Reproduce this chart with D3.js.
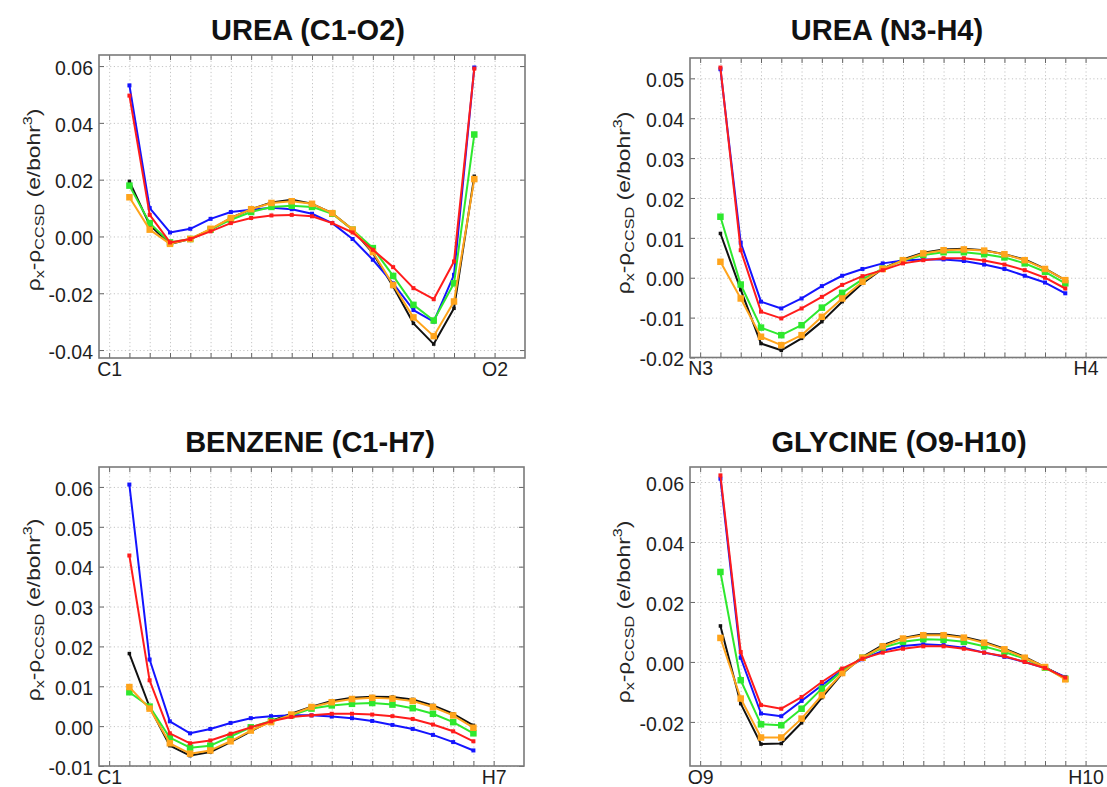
<!DOCTYPE html>
<html><head><meta charset="utf-8">
<script src="https://cdn.jsdelivr.net/npm/d3@7"></script>
<style>
body{margin:0;background:#fff;}
svg{display:block;font-family:"Liberation Sans",Arial,Helvetica,sans-serif;}
</style></head>
<body>
<svg id="chart" width="1107" height="787"></svg>
<script>
// ---------- DATA ----------
const panelTitles = ["UREA (C1-O2)", "UREA (N3-H4)", "BENZENE (C1-H7)", "GLYCINE (O9-H10)"];
const endLabels1 = ["C1", "O2"];
const endLabels2 = ["N3", "H4"];
const endLabels3 = ["C1", "H7"];
const endLabels4 = ["O9", "H10"];
const yTicks1 = [-0.04, -0.02, 0.00, 0.02, 0.04, 0.06];
const yTicks2 = [-0.02, -0.01, 0.00, 0.01, 0.02, 0.03, 0.04, 0.05];
const yTicks3 = [-0.01, 0.00, 0.01, 0.02, 0.03, 0.04, 0.05, 0.06];
const yTicks4 = [-0.02, 0.00, 0.02, 0.04, 0.06];
const yDomain1 = [-0.0428, 0.0639];
const yDomain2 = [-0.0200, 0.0551];
const yDomain3 = [-0.0100, 0.0650];
const yDomain4 = [-0.0347, 0.0650];
const pointIndex = d3.range(1, 19);   // sampled points between the two atoms (index 0 and 19)
const seriesKeys = ["black", "blue", "green", "orange", "red"];

// UREA (C1-O2)
const ureaCO_blue   = [0.0532,0.0100,0.0014,0.0027,0.0062,0.0086,0.0094,0.0101,0.0096,0.0080,0.0047,-0.0009,-0.0082,-0.0165,-0.0259,-0.0300,-0.0135,0.0595];
const ureaCO_red    = [0.0496,0.0076,-0.0021,-0.0009,0.0018,0.0047,0.0065,0.0074,0.0076,0.0071,0.0047,0.0014,-0.0047,-0.0108,-0.0182,-0.0221,-0.0088,0.0591];
const ureaCO_black  = [0.0194,0.0040,-0.0027,-0.0009,0.0024,0.0065,0.0096,0.0120,0.0129,0.0115,0.0082,0.0024,-0.0059,-0.0176,-0.0306,-0.0379,-0.0253,0.0212];
const ureaCO_green  = [0.0179,0.0047,-0.0021,-0.0009,0.0024,0.0059,0.0086,0.0104,0.0108,0.0104,0.0080,0.0024,-0.0041,-0.0139,-0.0241,-0.0296,-0.0165,0.0359];
const ureaCO_orange = [0.0138,0.0024,-0.0026,-0.0009,0.0027,0.0065,0.0096,0.0118,0.0124,0.0115,0.0082,0.0024,-0.0055,-0.0171,-0.0285,-0.0351,-0.0229,0.0202];

// UREA (N3-H4)
const ureaNH_red    = [0.0527,0.0069,-0.0085,-0.0102,-0.0077,-0.0048,-0.0018,0.0004,0.0019,0.0036,0.0044,0.0049,0.0049,0.0043,0.0033,0.0019,0.0000,-0.0027];
const ureaNH_blue   = [0.0523,0.0088,-0.0060,-0.0077,-0.0052,-0.0021,0.0005,0.0022,0.0036,0.0043,0.0046,0.0046,0.0042,0.0033,0.0022,0.0005,-0.0012,-0.0039];
const ureaNH_black  = [0.0111,-0.0030,-0.0165,-0.0182,-0.0152,-0.0110,-0.0060,-0.0014,0.0023,0.0046,0.0063,0.0071,0.0073,0.0069,0.0059,0.0046,0.0023,-0.0006];
const ureaNH_green  = [0.0153,-0.0017,-0.0125,-0.0144,-0.0119,-0.0075,-0.0038,-0.0004,0.0023,0.0043,0.0057,0.0064,0.0064,0.0059,0.0051,0.0036,0.0015,-0.0014];
const ureaNH_orange = [0.0040,-0.0052,-0.0148,-0.0169,-0.0144,-0.0098,-0.0052,-0.0010,0.0022,0.0044,0.0061,0.0069,0.0071,0.0068,0.0059,0.0044,0.0022,-0.0006];

// BENZENE (C1-H7)
const benz_blue   = [0.0606,0.0167,0.0012,-0.0018,-0.0007,0.0008,0.0020,0.0025,0.0027,0.0027,0.0024,0.0020,0.0013,0.0003,-0.0007,-0.0022,-0.0040,-0.0061];
const benz_red    = [0.0428,0.0115,-0.0018,-0.0043,-0.0036,-0.0019,-0.0003,0.0012,0.0023,0.0027,0.0031,0.0031,0.0029,0.0025,0.0018,0.0004,-0.0013,-0.0038];
const benz_black  = [0.0182,0.0048,-0.0049,-0.0074,-0.0065,-0.0040,-0.0013,0.0013,0.0031,0.0049,0.0063,0.0071,0.0074,0.0073,0.0067,0.0052,0.0031,0.0002];
const benz_green  = [0.0085,0.0049,-0.0029,-0.0054,-0.0049,-0.0026,-0.0003,0.0013,0.0027,0.0044,0.0052,0.0056,0.0058,0.0054,0.0045,0.0031,0.0010,-0.0018];
const benz_orange = [0.0098,0.0044,-0.0043,-0.0069,-0.0061,-0.0038,-0.0011,0.0010,0.0029,0.0048,0.0060,0.0068,0.0071,0.0069,0.0063,0.0048,0.0027,-0.0004];

// GLYCINE (O9-H10)
const gly_red    = [0.0622,0.0033,-0.0144,-0.0156,-0.0117,-0.0067,-0.0022,0.0011,0.0031,0.0044,0.0052,0.0052,0.0044,0.0031,0.0019,0.0000,-0.0020,-0.0052];
const gly_blue   = [0.0611,0.0014,-0.0172,-0.0181,-0.0130,-0.0078,-0.0028,0.0009,0.0037,0.0053,0.0059,0.0056,0.0047,0.0031,0.0017,0.0000,-0.0020,-0.0050];
const gly_green  = [0.0300,-0.0061,-0.0208,-0.0211,-0.0156,-0.0089,-0.0030,0.0014,0.0048,0.0067,0.0076,0.0074,0.0067,0.0052,0.0033,0.0011,-0.0019,-0.0056];
const gly_black  = [0.0120,-0.0139,-0.0274,-0.0272,-0.0203,-0.0119,-0.0039,0.0017,0.0056,0.0080,0.0092,0.0092,0.0083,0.0067,0.0044,0.0017,-0.0017,-0.0053];
const gly_orange = [0.0080,-0.0122,-0.0252,-0.0252,-0.0189,-0.0111,-0.0037,0.0014,0.0052,0.0078,0.0089,0.0089,0.0081,0.0064,0.0042,0.0014,-0.0017,-0.0058];

// ---------- STYLE / LAYOUT ----------
const colors = {black:"#111111", blue:"#1414ff", green:"#2ee82e", orange:"#ffa41c", red:"#ff1c1c"};
const markerSize = {black:3.5, blue:4, green:6.5, orange:6.5, red:4};

const panels = [
  {title:panelTitles[0], ends:endLabels1, ticks:yTicks1, domain:yDomain1,
   data:{black:ureaCO_black, blue:ureaCO_blue, green:ureaCO_green, orange:ureaCO_orange, red:ureaCO_red},
   left:99, top:55, w:426, h:303, titleX:308, titleY:40, labelX:33, labelY:200},
  {title:panelTitles[1], ends:endLabels2, ticks:yTicks2, domain:yDomain2,
   data:{black:ureaNH_black, blue:ureaNH_blue, green:ureaNH_green, orange:ureaNH_orange, red:ureaNH_red},
   left:690, top:58, w:426, h:299.5, titleX:887, titleY:40, labelX:623, labelY:203},
  {title:panelTitles[2], ends:endLabels3, ticks:yTicks3, domain:yDomain3,
   data:{black:benz_black, blue:benz_blue, green:benz_green, orange:benz_orange, red:benz_red},
   left:99, top:467, w:425, h:299, titleX:310, titleY:452, labelX:33, labelY:610},
  {title:panelTitles[3], ends:endLabels4, ticks:yTicks4, domain:yDomain4,
   data:{black:gly_black, blue:gly_blue, green:gly_green, orange:gly_orange, red:gly_red},
   left:690, top:467, w:426, h:299, titleX:899, titleY:452, labelX:623, labelY:612}
];

const svg = d3.select("#chart");

panels.forEach(p => {
  const g = svg.append("g").attr("transform", `translate(${p.left},${p.top})`);
  const x = d3.scaleLinear().domain([-0.5, 20.5]).range([0, p.w]);
  const y = d3.scaleLinear().domain(p.domain).range([p.h, 0]);
  const xTickVals = d3.range(0, 20);

  // gridlines
  const gx = g.append("g").attr("transform", `translate(0,${p.h})`)
    .call(d3.axisBottom(x).tickValues(xTickVals).tickSize(-p.h).tickFormat(""));
  const gy = g.append("g")
    .call(d3.axisLeft(y).tickValues(p.ticks).tickSize(-p.w).tickFormat(""));
  [gx, gy].forEach(a => {
    a.select(".domain").remove();
    a.selectAll("line").attr("stroke", "#c4c4c4").attr("stroke-width", 1).attr("stroke-dasharray", "1.2,2.5");
  });

  // inner ticks on all four sides
  const tl = 5;
  const axes = [
    g.append("g").call(d3.axisTop(x).tickValues(xTickVals).tickSize(-tl).tickFormat("")),
    g.append("g").attr("transform", `translate(0,${p.h})`).call(d3.axisBottom(x).tickValues(xTickVals).tickSize(-tl).tickFormat("")),
    g.append("g").call(d3.axisLeft(y).tickValues(p.ticks).tickSize(-tl).tickFormat("")),
    g.append("g").attr("transform", `translate(${p.w},0)`).call(d3.axisRight(y).tickValues(p.ticks).tickSize(-tl).tickFormat(""))
  ];
  axes.forEach(a => { a.select(".domain").remove(); a.selectAll("line").attr("stroke", "#666").attr("stroke-width", 1); });

  // frame
  g.append("rect").attr("width", p.w).attr("height", p.h)
    .attr("fill", "none").attr("stroke", "#7a7a7a").attr("stroke-width", 1.6);

  // y tick labels
  const yl = g.append("g")
    .call(d3.axisLeft(y).tickValues(p.ticks).tickSize(0).tickPadding(6).tickFormat(d => d.toFixed(2)));
  yl.select(".domain").remove();
  yl.selectAll("text").attr("font-size", 19.5).attr("fill", "#1e1e1e")
    .attr("font-family", '"Liberation Sans",Arial,sans-serif').attr("dy", "0.42em");

  // end (atom) labels
  const xl = g.append("g").attr("transform", `translate(0,${p.h})`)
    .call(d3.axisBottom(x).tickValues([0, 19]).tickSize(0).tickPadding(4)
      .tickFormat((d, i) => p.ends[i]));
  xl.select(".domain").remove();
  xl.selectAll("text").attr("font-size", 19.5).attr("fill", "#1e1e1e")
    .attr("font-family", '"Liberation Sans",Arial,sans-serif');

  // series
  const line = d3.line().x((d, i) => x(pointIndex[i])).y(d => y(d));
  seriesKeys.forEach(k => {
    const vals = p.data[k];
    g.append("path").datum(vals).attr("d", line)
      .attr("fill", "none").attr("stroke", colors[k]).attr("stroke-width", 2)
      .attr("stroke-linejoin", "round");
    const s = markerSize[k];
    g.selectAll(null).data(vals).enter().append("rect")
      .attr("x", (d, i) => x(pointIndex[i]) - s / 2)
      .attr("y", d => y(d) - s / 2)
      .attr("width", s).attr("height", s)
      .attr("fill", colors[k]);
  });

  // title
  svg.append("text").attr("x", p.titleX).attr("y", p.titleY)
    .attr("text-anchor", "middle").attr("font-size", 29).attr("font-weight", "bold")
    .attr("fill", "#111").text(p.title);

  // y axis label
  const t = svg.append("text")
    .attr("transform", `translate(${p.labelX},${p.labelY}) rotate(-90) scale(1.2,1)`)
    .attr("text-anchor", "middle").attr("font-size", 19).attr("fill", "#262626")
    .attr("dy", "0.35em");
  t.append("tspan").text("\u03C1");
  t.append("tspan").attr("font-size", 13.5).attr("dy", 4).text("x");
  t.append("tspan").attr("dy", -4).text("-\u03C1");
  t.append("tspan").attr("font-size", 13.5).attr("dy", 4).text("CCSD");
  t.append("tspan").attr("dy", -4).text(" (e/bohr");
  t.append("tspan").attr("font-size", 13.5).attr("dy", -8).text("3");
  t.append("tspan").attr("dy", 8).text(")");
});
</script>
</body></html>
